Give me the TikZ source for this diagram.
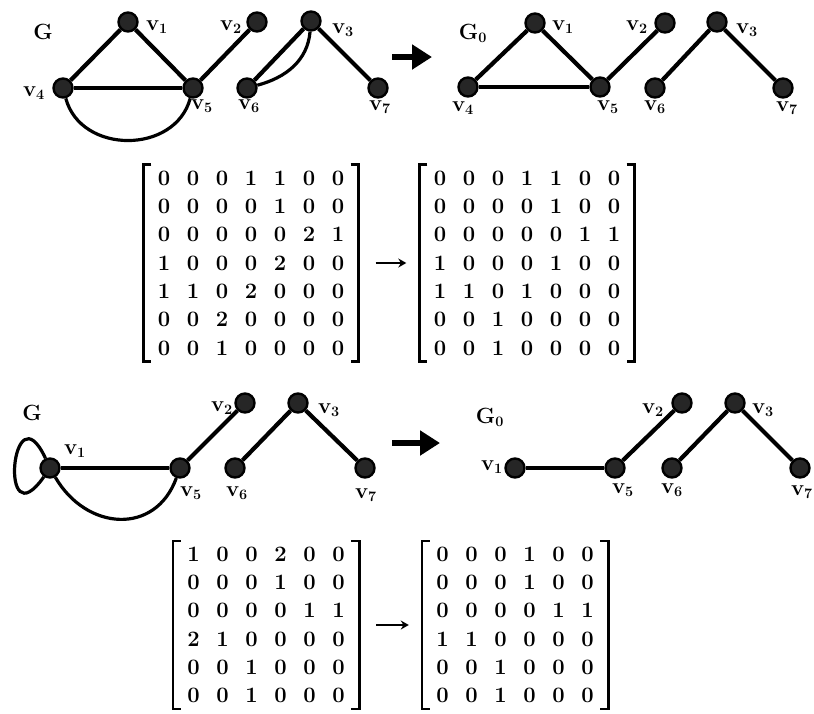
\documentclass[tikz,border=0pt]{standalone}
\usetikzlibrary{matrix,arrows.meta,positioning}

\newcommand{\vlab}[1]{v$_{\mathbf{#1}}$}

\begin{document}
\begin{tikzpicture}[x=1pt,y=-1pt]
  \tikzstyle{every node}=[font=\fontsize{22}{26}\selectfont\bfseries]
  \tikzstyle{vtx}=[circle,draw,line width=2.4pt,fill=black!85,minimum size=19pt,inner sep=0pt]
  \tikzstyle{lbl}=[inner sep=0pt]
  \tikzstyle{edg}=[line width=4.2pt]
  \tikzstyle{thinedg}=[line width=3.2pt]
  \tikzstyle{bigarr}=[line width=6pt,-{Triangle[length=20pt,width=24pt]}]
  \tikzstyle{marr}=[line width=2pt,-{Stealth[length=8pt,width=9pt]},shorten <=17pt,shorten >=13pt]
  \tikzstyle{mtx}=[matrix of nodes,inner xsep=6pt,inner ysep=0pt,row sep=2.2pt,column sep=0pt,
      nodes={minimum width=29pt,minimum height=26pt,inner sep=0pt}]
  \tikzstyle{brk}=[line width=2.6pt]
  \useasboundingbox (0,0) rectangle (814,713);

  % first graph G
  \node[lbl] (ga) at (43,32) {G};
  \node[vtx] (a1) at (128,22) {};
  \node[vtx] (a2) at (257,22) {};
  \node[vtx] (a3) at (311,21) {};
  \node[vtx] (a4) at (63,88) {};
  \node[vtx] (a5) at (193,88) {};
  \node[vtx] (a6) at (247,88) {};
  \node[vtx] (a7) at (378,88) {};
  \node[lbl] (la1) at (157,27) {\vlab1};
  \node[lbl] (la2) at (231,27) {\vlab2};
  \node[lbl] (la3) at (343,30) {\vlab3};
  \node[lbl] (la4) at (34,93) {\vlab4};
  \node[lbl] (la5) at (202,106) {\vlab5};
  \node[lbl] (la6) at (249,106) {\vlab6};
  \node[lbl] (la7) at (380,107) {\vlab7};
  \draw[edg] (a1) -- (a4) (a1) -- (a5) (a5) -- (a2) (a3) -- (a6) (a3) -- (a7);
  \draw[thinedg] (a4) -- (a5);
  \draw[thinedg] (a4) to[out=-75,in=-105,looseness=1.2] (a5);
  \draw[thinedg] (a3) to[out=-95,in=15] (a6);

  \coordinate (t1) at (392,57);
  \coordinate (t2) at (432,57);
  \draw[bigarr] (t1) -- (t2);

  % G0
  \node[lbl] (gb) at (473,33) {G$_{\mathbf 0}$};
  \node[vtx] (b1) at (535,23) {};
  \node[vtx] (b2) at (665,23) {};
  \node[vtx] (b3) at (717,22) {};
  \node[vtx] (b4) at (468,87) {};
  \node[vtx] (b5) at (600,87) {};
  \node[vtx] (b6) at (655,88) {};
  \node[vtx] (b7) at (783,88) {};
  \node[lbl] (lb1) at (563,27) {\vlab1};
  \node[lbl] (lb2) at (637,27) {\vlab2};
  \node[lbl] (lb3) at (747,30) {\vlab3};
  \node[lbl] (lb4) at (463,108) {\vlab4};
  \node[lbl] (lb5) at (608,107) {\vlab5};
  \node[lbl] (lb6) at (655,107) {\vlab6};
  \node[lbl] (lb7) at (787,108) {\vlab7};
  \draw[edg] (b1) -- (b4) (b1) -- (b5) (b5) -- (b2) (b3) -- (b6) (b3) -- (b7);
  \draw[thinedg] (b4) -- (b5);

  % matrices
  \matrix (mA) [mtx] at (251,263) {
    0 & 0 & 0 & 1 & 1 & 0 & 0 \\
    0 & 0 & 0 & 0 & 1 & 0 & 0 \\
    0 & 0 & 0 & 0 & 0 & 2 & 1 \\
    1 & 0 & 0 & 0 & 2 & 0 & 0 \\
    1 & 1 & 0 & 2 & 0 & 0 & 0 \\
    0 & 0 & 2 & 0 & 0 & 0 & 0 \\
    0 & 0 & 1 & 0 & 0 & 0 & 0 \\
  };
  \matrix (mB) [mtx] at (527,263) {
    0 & 0 & 0 & 1 & 1 & 0 & 0 \\
    0 & 0 & 0 & 0 & 1 & 0 & 0 \\
    0 & 0 & 0 & 0 & 0 & 1 & 1 \\
    1 & 0 & 0 & 0 & 1 & 0 & 0 \\
    1 & 1 & 0 & 1 & 0 & 0 & 0 \\
    0 & 0 & 1 & 0 & 0 & 0 & 0 \\
    0 & 0 & 1 & 0 & 0 & 0 & 0 \\
  };
  \draw[marr] (mA.east) -- (mB.west);

  % second example
  \node[lbl] (gc) at (32,413) {G};
  \node[vtx] (c1) at (50,468) {};
  \node[vtx] (c2) at (245,403) {};
  \node[vtx] (c3) at (298,403) {};
  \node[vtx] (c5) at (180,468) {};
  \node[vtx] (c6) at (235,468) {};
  \node[vtx] (c7) at (365,468) {};
  \node[lbl] (lc1) at (75,451) {\vlab1};
  \node[lbl] (lc2) at (222,408) {\vlab2};
  \node[lbl] (lc3) at (329,410) {\vlab3};
  \node[lbl] (lc5) at (191,493) {\vlab5};
  \node[lbl] (lc6) at (237,493) {\vlab6};
  \node[lbl] (lc7) at (366,495) {\vlab7};
  \draw[thinedg] (c1) to[out=115,in=-125,min distance=80pt] (c1);
  \draw[thinedg] (c1) -- (c5);
  \draw[thinedg] (c1) to[out=-60,in=-110,looseness=1.3] (c5);
  \draw[edg] (c5) -- (c2) (c3) -- (c6) (c3) -- (c7);

  \coordinate (t3) at (392,443);
  \coordinate (t4) at (440,443);
  \draw[bigarr] (t3) -- (t4);

  \node[lbl] (gd) at (490,417) {G$_{\mathbf 0}$};
  \node[vtx] (d1) at (515,468) {};
  \node[vtx] (d2) at (682,403) {};
  \node[vtx] (d3) at (735,403) {};
  \node[vtx] (d5) at (615,468) {};
  \node[vtx] (d6) at (672,468) {};
  \node[vtx] (d7) at (800,468) {};
  \node[lbl] (ld1) at (492,467) {\vlab1};
  \node[lbl] (ld2) at (653,410) {\vlab2};
  \node[lbl] (ld3) at (763,410) {\vlab3};
  \node[lbl] (ld5) at (623,490) {\vlab5};
  \node[lbl] (ld6) at (672,490) {\vlab6};
  \node[lbl] (ld7) at (802,492) {\vlab7};
  \draw[thinedg] (d1) -- (d5);
  \draw[edg] (d5) -- (d2) (d3) -- (d6) (d3) -- (d7);

  \matrix (mC) [mtx] at (266,625) {
    1 & 0 & 0 & 2 & 0 & 0 \\
    0 & 0 & 0 & 1 & 0 & 0 \\
    0 & 0 & 0 & 0 & 1 & 1 \\
    2 & 1 & 0 & 0 & 0 & 0 \\
    0 & 0 & 1 & 0 & 0 & 0 \\
    0 & 0 & 1 & 0 & 0 & 0 \\
  };
  \matrix (mD) [mtx] at (515,625) {
    0 & 0 & 0 & 1 & 0 & 0 \\
    0 & 0 & 0 & 1 & 0 & 0 \\
    0 & 0 & 0 & 0 & 1 & 1 \\
    1 & 1 & 0 & 0 & 0 & 0 \\
    0 & 0 & 1 & 0 & 0 & 0 \\
    0 & 0 & 1 & 0 & 0 & 0 \\
  };
  \draw[marr] (mC.east) -- (mD.west);

  \foreach \m in {mA,mB,mC,mD} {
    \draw[brk] ([xshift=8pt]\m.north west) -- (\m.north west) -- (\m.south west) -- ([xshift=8pt]\m.south west);
    \draw[brk] ([xshift=-8pt]\m.north east) -- (\m.north east) -- (\m.south east) -- ([xshift=-8pt]\m.south east);
  }
\end{tikzpicture}
\end{document}
